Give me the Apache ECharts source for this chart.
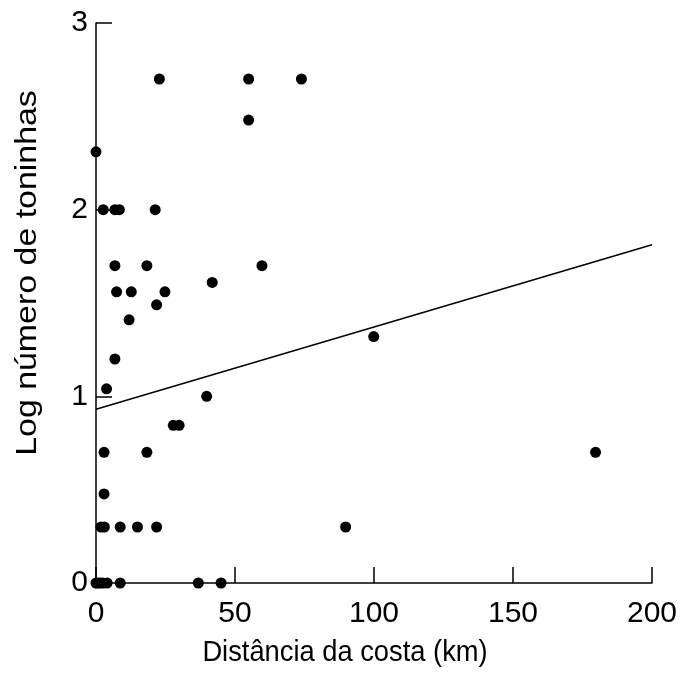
<!DOCTYPE html>
<html>
<head>
<meta charset="utf-8">
<script src="https://cdn.jsdelivr.net/npm/echarts@6/dist/echarts.min.js"></script>
<style>html,body{margin:0;padding:0;background:#fff}#c{width:681px;height:673px}</style>
</head>
<body>
<div id="c"></div>
<script>
// Distance from coast (km)
var distance = [0, 2.6, 6.8, 8.4, 21.3, 22.8, 54.9, 73.9, 54.9, 59.7,
  6.8, 18.3, 41.8, 7.4, 12.7, 24.8, 21.8, 11.9, 6.8, 3.8,
  39.8, 27.8, 29.9, 2.9, 18.3, 2.9, 1.8, 3.0, 8.7, 14.9,
  21.8, 89.8, 99.9, 179.7, 0, 0.6, 1.5, 2.5, 4.0, 8.7, 36.8, 45];
// Log number of porpoises
var logCount = [2.31, 2.0, 2.0, 2.0, 2.0, 2.70, 2.70, 2.70, 2.48, 1.70,
  1.70, 1.70, 1.61, 1.56, 1.56, 1.56, 1.49, 1.41, 1.20, 1.04,
  1.0, 0.845, 0.845, 0.70, 0.70, 0.477, 0.30, 0.30, 0.30, 0.30,
  0.30, 0.30, 1.32, 0.70, 0, 0, 0, 0, 0, 0, 0, 0];
// Regression line endpoints
var fitX = [0, 200];
var fitY = [0.931, 1.812];
var xTicks = [0, 50, 100, 150, 200];
var yTicks = [0, 1, 2, 3];

var points = distance.map(function (d, i) { return [d, logCount[i]]; });
var fit = fitX.map(function (d, i) { return [d, fitY[i]]; });

var chart = echarts.init(document.getElementById('c'), null, {renderer: 'canvas'});
var font = '"Liberation Sans", Arial, sans-serif';
chart.setOption({
  animation: false,
  backgroundColor: '#fff',
  grid: {left: 96, right: 29, top: 23, bottom: 90},
  xAxis: {
    type: 'value', min: 0, max: 200, interval: 50,
    axisLine: {show: true, onZero: false, lineStyle: {color: '#000', width: 1.5}},
    axisTick: {show: true, inside: true, length: 16, lineStyle: {color: '#000', width: 1.5}},
    axisLabel: {color: '#000', fontSize: 30, fontFamily: font, margin: 16,
      formatter: function (v) { return xTicks.indexOf(v) >= 0 ? String(v) : ''; }},
    splitLine: {show: false}
  },
  yAxis: {
    type: 'value', min: 0, max: 3, interval: 1,
    axisLine: {show: true, onZero: false, lineStyle: {color: '#000', width: 1.5}},
    axisTick: {show: true, inside: true, length: 16, lineStyle: {color: '#000', width: 1.5}},
    axisLabel: {color: '#000', fontSize: 30, fontFamily: font, margin: 8,
      formatter: function (v) { return yTicks.indexOf(v) >= 0 ? String(v) : ''; }},
    splitLine: {show: false}
  },
  graphic: [
    {type: 'text', x: 345, y: 653, scaleX: 0.91, style: {text: 'Distância da costa (km)', font: '30px ' + font,
      fill: '#000', textAlign: 'center', textVerticalAlign: 'middle'}},
    {type: 'text', x: 28, y: 273, rotation: Math.PI / 2, scaleX: 1.13, style: {text: 'Log número de toninhas', font: '30px ' + font,
      fill: '#000', textAlign: 'center', textVerticalAlign: 'middle'}}
  ],
  series: [
    {type: 'line', data: fit, symbol: 'none', lineStyle: {color: '#000', width: 1.4}, z: 2},
    {type: 'scatter', data: points, symbol: 'circle', symbolSize: 11, itemStyle: {color: '#000', opacity: 1}, z: 3}
  ]
});
</script>
</body>
</html>
